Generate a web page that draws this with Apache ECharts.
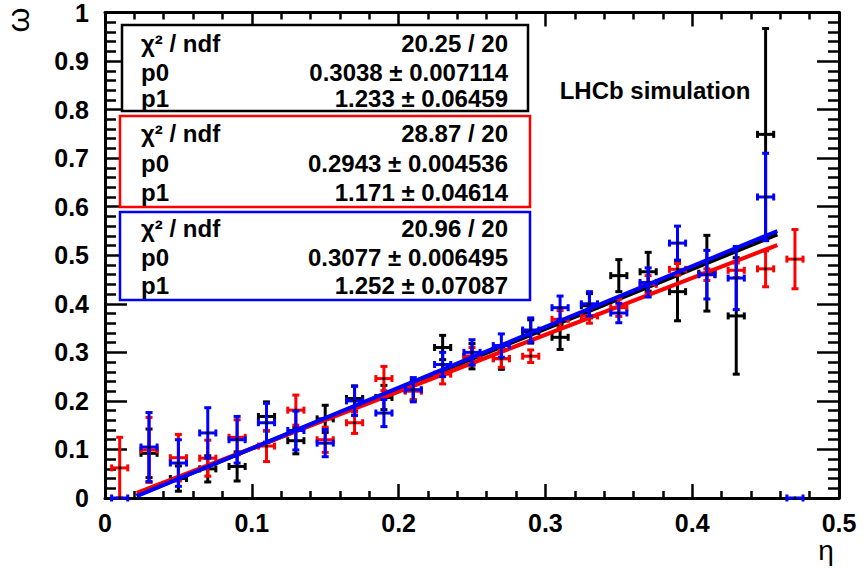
<!DOCTYPE html>
<html><head><meta charset="utf-8">
<script src="https://cdn.jsdelivr.net/npm/echarts@6/dist/echarts.min.js"></script>
<style>html,body{margin:0;padding:0;background:#fff}#c{width:864px;height:571px}</style>
</head><body><div id="c"></div>
<script>
// ---- data ----
const etaBlack = [0.03,0.05,0.07,0.09,0.11,0.13,0.15,0.17,0.19,0.21,0.23,0.25,0.27,0.29,0.31,0.33,0.35,0.37,0.39,0.41,0.43,0.45];
const omegaBlack = [0.092,0.040,0.060,0.065,0.168,0.118,0.163,0.205,0.207,0.222,0.310,0.292,0.287,0.343,0.331,0.396,0.458,0.466,0.425,0.463,0.375,0.749];
const errBlack = [0.050,0.026,0.027,0.030,0.030,0.027,0.028,0.026,0.025,0.020,0.025,0.026,0.022,0.024,0.025,0.025,0.033,0.040,0.060,0.078,0.120,0.218];

const etaRed = [0.01,0.03,0.05,0.07,0.09,0.11,0.13,0.15,0.17,0.19,0.21,0.23,0.25,0.27,0.29,0.31,0.33,0.35,0.37,0.39,0.41,0.43,0.45,0.47];
const omegaRed = [0.062,0.099,0.083,0.082,0.125,0.107,0.181,0.120,0.155,0.246,0.220,0.255,0.292,0.287,0.292,0.368,0.375,0.392,0.440,0.471,0.460,0.469,0.472,0.492];
const errRed = [0.063,0.067,0.048,0.037,0.036,0.032,0.031,0.026,0.022,0.025,0.018,0.020,0.018,0.018,0.013,0.018,0.015,0.018,0.018,0.012,0.012,0.015,0.037,0.061];

const etaBlue = [0.01,0.03,0.05,0.07,0.09,0.11,0.13,0.15,0.17,0.19,0.21,0.23,0.25,0.27,0.29,0.31,0.33,0.35,0.37,0.39,0.41,0.43,0.45,0.47];
const omegaBlue = [0.000,0.105,0.072,0.134,0.120,0.155,0.139,0.113,0.200,0.175,0.223,0.275,0.300,0.314,0.346,0.392,0.400,0.381,0.444,0.525,0.460,0.453,0.620,0.000];
const errBlue = [0.000,0.071,0.048,0.052,0.048,0.040,0.040,0.028,0.030,0.028,0.025,0.025,0.026,0.024,0.025,0.024,0.025,0.020,0.030,0.035,0.050,0.065,0.090,0.000];

const etaErr = 0.0055;

// fitted straight lines, endpoints
const fitBlack = [[0.0216,0.005],[0.458,0.543]];
const fitRed   = [[0.0216,0.0105],[0.458,0.521]];
const fitBlue  = [[0.0216,0.004],[0.458,0.550]];

const xTicks = ['0','0.1','0.2','0.3','0.4','0.5'];
const yTicks = ['0','0.1','0.2','0.3','0.4','0.5','0.6','0.7','0.8','0.9','1'];

const statBlack = [['χ² / ndf','20.25 / 20'],['p0','0.3038 ± 0.007114'],['p1','1.233 ± 0.06459']];
const statRed   = [['χ² / ndf','28.87 / 20'],['p0','0.2943 ± 0.004536'],['p1','1.171 ± 0.04614']];
const statBlue  = [['χ² / ndf','20.96 / 20'],['p0','0.3077 ± 0.006495'],['p1','1.252 ± 0.07087']];

// ---- chart ----
const FONT = '"Liberation Sans", Arial, Helvetica, sans-serif';
const chart = echarts.init(document.getElementById('c'), null, {renderer:'svg'});

function errSeries(name, xs, ys, es, color, z){
  return {
    type:'custom', name, z, clip:false,
    data: xs.map((x,i)=>[x, ys[i], es[i]]),
    encode:{x:0, y:1},
    renderItem:(params, api)=>{
      const x = api.value(0), y = api.value(1), e = api.value(2);
      const c = api.coord([x,y]);
      const st = {stroke:color, lineWidth:3};
      const ch = [];
      if (e > 0){
        const t = api.coord([x, Math.min(1, y+e)]);
        const b = api.coord([x, Math.max(0, y-e)]);
        ch.push({type:'line', shape:{x1:c[0],y1:t[1],x2:c[0],y2:b[1]}, style:st});
        ch.push({type:'line', shape:{x1:c[0]-3.5,y1:t[1],x2:c[0]+3.5,y2:t[1]}, style:st});
        ch.push({type:'line', shape:{x1:c[0]-3.5,y1:b[1],x2:c[0]+3.5,y2:b[1]}, style:st});
      }
      const l = api.coord([x-etaErr, y]), r = api.coord([x+etaErr, y]);
      ch.push({type:'line', shape:{x1:l[0],y1:c[1],x2:r[0],y2:c[1]}, style:st});
      ch.push({type:'line', shape:{x1:l[0],y1:c[1]-3.5,x2:l[0],y2:c[1]+3.5}, style:st});
      ch.push({type:'line', shape:{x1:r[0],y1:c[1]-3.5,x2:r[0],y2:c[1]+3.5}, style:st});
      ch.push({type:'circle', shape:{cx:c[0], cy:c[1], r:1.6}, style:{fill:'#000'}});
      return {type:'group', children:ch};
    }
  };
}
function fitSeries(data, color, z){
  return {type:'line', data, z, symbol:'none', silent:true,
    lineStyle:{color, width:4}, animation:false};
}

function xAx(pos, showLabel){
  return {type:'value', position:pos, min:0, max:0.5, interval:0.1,
    axisLine:{show:true, onZero:false, lineStyle:{color:'#000', width:3}},
    axisTick:{show:true, inside:true, length:14, lineStyle:{color:'#000', width:2.5}},
    minorTick:{show:true, splitNumber:5, length:7, lineStyle:{color:'#000', width:2.5}},
    splitLine:{show:false},
    axisLabel:{show:showLabel, color:'#000', fontFamily:FONT, fontWeight:'bold', fontSize:25, margin:12,
      formatter:(v)=>xTicks[Math.round(v*10)]}
  };
}
function yAx(pos, showLabel){
  return {type:'value', position:pos, min:0, max:1, interval:0.1,
    axisLine:{show:true, onZero:false, lineStyle:{color:'#000', width:3}},
    axisTick:{show:true, inside:true, length:22, lineStyle:{color:'#000', width:2.5}},
    minorTick:{show:true, splitNumber:5, length:11, lineStyle:{color:'#000', width:2.5}},
    splitLine:{show:false},
    axisLabel:{show:showLabel, color:'#000', fontFamily:FONT, fontWeight:'bold', fontSize:25, margin:16,
      formatter:(v)=>yTicks[Math.round(v*10)]}
  };
}

function statBox(rows, color, x, y, w, h, rowY){
  const els = [{type:'rect', shape:{x, y, width:w, height:h}, z:100,
    style:{fill:'#fff', stroke:color, lineWidth:2.5}}];
  rows.forEach((r,i)=>{
    els.push({type:'text', z:101, style:{text:r[0], x:141, y:rowY[i], fill:'#000',
      font:'bold 24px '+FONT, textAlign:'left', textVerticalAlign:'middle', verticalAlign:'middle'}});
    els.push({type:'text', z:101, style:{text:r[1], x:508, y:rowY[i], fill:'#000',
      font:'bold 24px '+FONT, textAlign:'right', textVerticalAlign:'middle', verticalAlign:'middle'}});
  });
  return els;
}

const graphics = [].concat(
  statBox(statBlack, '#000', 122, 25, 406, 86, [43,72,98]),
  statBox(statRed, '#ff0000', 120, 116, 410, 91, [133,163,192]),
  statBox(statBlue, '#0000ff', 120, 212, 410, 88, [228,257,285]),
  [
    {type:'text', z:101, style:{text:'LHCb simulation', x:655, y:90, fill:'#000',
      font:'bold 24px '+FONT, textAlign:'center', textVerticalAlign:'middle', verticalAlign:'middle'}},
    {type:'text', z:101, style:{text:'η', x:826, y:550, fill:'#000',
      font:'28px '+FONT, textAlign:'center', textVerticalAlign:'middle', verticalAlign:'middle'}},
    {type:'text', z:101, rotation:Math.PI/2, x:18, y:20, style:{text:'ω', x:0, y:0, fill:'#000',
      font:'32px '+FONT, textAlign:'center', textVerticalAlign:'middle', verticalAlign:'middle'}}
  ]
);

chart.setOption({
  animation:false,
  backgroundColor:'#fff',
  grid:{left:105, right:25, top:11, bottom:73, containLabel:false},
  xAxis:[xAx('bottom', true), xAx('top', false)],
  yAxis:[yAx('left', true), yAx('right', false)],
  series:[
    errSeries('black', etaBlack, omegaBlack, errBlack, '#000000', 2),
    fitSeries(fitBlack, '#000000', 3),
    errSeries('red', etaRed, omegaRed, errRed, '#ff0000', 4),
    fitSeries(fitRed, '#ff0000', 5),
    errSeries('blue', etaBlue, omegaBlue, errBlue, '#0000ff', 6),
    fitSeries(fitBlue, '#0000ff', 7)
  ],
  graphic: graphics
});
</script></body></html>
